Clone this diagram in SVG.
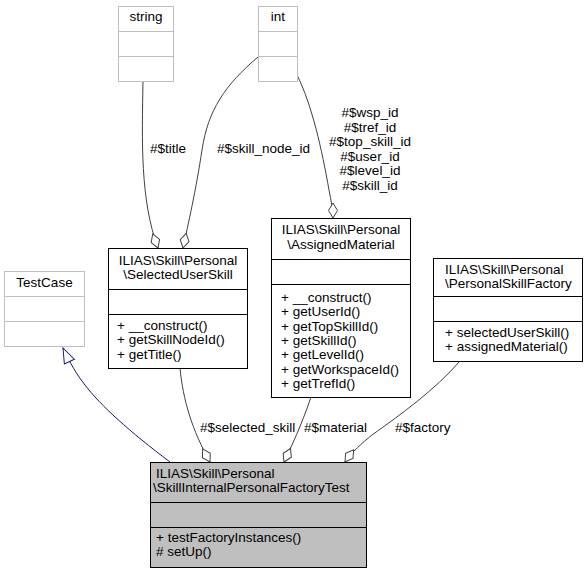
<svg xmlns="http://www.w3.org/2000/svg" width="586" height="573" viewBox="0 0 586 573">
<style>
text{font-family:"Liberation Sans",Arial,sans-serif;font-size:13.5px;fill:#000}
.m{text-anchor:middle}
.ext rect,.ext line{fill:#fff;stroke:#bfbfbf;stroke-width:1}
.cls rect,.cls line{fill:#fff;stroke:#000;stroke-width:1}
.cls rect.main{fill:#bfbfbf}
.e{fill:none;stroke:#404040;stroke-width:1}
.inh{fill:none;stroke:#191970;stroke-width:1}
</style>
<defs>
<marker id="dia" markerUnits="userSpaceOnUse" markerWidth="17" markerHeight="11" viewBox="-1 -5.5 17 11" refX="15" refY="0" orient="auto">
<path d="M0,0 L7.5,-4.5 L15,0 L7.5,4.5 Z" fill="#fff" stroke="#404040" stroke-width="1"/>
</marker>
<marker id="tri" markerUnits="userSpaceOnUse" markerWidth="17" markerHeight="13" viewBox="-1 -6.5 17 13" refX="15" refY="0" orient="auto">
<path d="M0,-5.5 L15,0 L0,5.5 Z" fill="#fff" stroke="#191970" stroke-width="1"/>
</marker>
</defs>

<g id="connectors">
<path class="e" d="M143,81 C142,140 140,200 158,248" marker-end="url(#dia)"/>
<text x="150" y="153">#$title</text>
<path class="e" d="M258,57 C225,85 208,110 202,150 S188,225 183,248" marker-end="url(#dia)"/>
<text x="217" y="153">#$skill_node_id</text>
<path class="e" d="M297,75 C312,105 322,150 329,190 C331,200 333,210 333,218" marker-end="url(#dia)"/>
<text class="m" x="370" y="117">#$wsp_id</text>
<text class="m" x="370" y="131.5">#$tref_id</text>
<text class="m" x="370" y="146">#$top_skill_id</text>
<text class="m" x="370" y="160.5">#$user_id</text>
<text class="m" x="370" y="175">#$level_id</text>
<text class="m" x="370" y="189.5">#$skill_id</text>
<path class="e" d="M180,368 C183,400 192,430 210,462" marker-end="url(#dia)"/>
<text x="200" y="432">#$selected_skill</text>
<path class="e" d="M311,397 C305,415 297,435 284,462" marker-end="url(#dia)"/>
<text x="304" y="432">#$material</text>
<path class="e" d="M460,361 C435,390 400,415 372,435 C362,443 352,452 345,462" marker-end="url(#dia)"/>
<text x="395" y="432">#$factory</text>
<path class="inh" d="M170,462 C130,432 100,405 85,385 C77,375 70,363 63,348" marker-end="url(#tri)"/>
</g>

<g id="node-string" class="ext">
<rect x="118.5" y="6.5" width="55" height="75"/>
<line x1="118.5" y1="31.5" x2="173.5" y2="31.5"/>
<line x1="118.5" y1="56.5" x2="173.5" y2="56.5"/>
<text class="m" x="146" y="21">string</text>
</g>

<g id="node-int" class="ext">
<rect x="258.5" y="6.5" width="39" height="75"/>
<line x1="258.5" y1="31.5" x2="297.5" y2="31.5"/>
<line x1="258.5" y1="56.5" x2="297.5" y2="56.5"/>
<text class="m" x="278" y="21">int</text>
</g>

<g id="node-testcase" class="ext">
<rect x="4.5" y="271.5" width="80" height="75"/>
<line x1="4.5" y1="296.5" x2="84.5" y2="296.5"/>
<line x1="4.5" y1="321.5" x2="84.5" y2="321.5"/>
<text class="m" x="44.5" y="287">TestCase</text>
</g>

<g id="node-selecteduserskill" class="cls">
<rect x="108.5" y="248.5" width="139" height="120"/>
<line x1="108.5" y1="289.5" x2="247.5" y2="289.5"/>
<line x1="108.5" y1="314.5" x2="247.5" y2="314.5"/>
<text class="m" x="178" y="264.5">ILIAS\Skill\Personal</text>
<text class="m" x="178" y="278.5">\SelectedUserSkill</text>
<text x="117" y="330">+ __construct()</text>
<text x="117" y="344.3">+ getSkillNodeId()</text>
<text x="117" y="358.6">+ getTitle()</text>
</g>

<g id="node-assignedmaterial" class="cls">
<rect x="271.5" y="218.5" width="139" height="179"/>
<line x1="271.5" y1="259.5" x2="410.5" y2="259.5"/>
<line x1="271.5" y1="284.5" x2="410.5" y2="284.5"/>
<text class="m" x="341" y="234">ILIAS\Skill\Personal</text>
<text class="m" x="341" y="248.5">\AssignedMaterial</text>
<text x="281" y="302">+ __construct()</text>
<text x="281" y="316.3">+ getUserId()</text>
<text x="281" y="330.6">+ getTopSkillId()</text>
<text x="281" y="345">+ getSkillId()</text>
<text x="281" y="359.3">+ getLevelId()</text>
<text x="281" y="373.6">+ getWorkspaceId()</text>
<text x="281" y="388">+ getTrefId()</text>
</g>

<g id="node-personalskillfactory" class="cls">
<rect x="433.5" y="258.5" width="149" height="103"/>
<line x1="433.5" y1="296.5" x2="582.5" y2="296.5"/>
<line x1="433.5" y1="321.5" x2="582.5" y2="321.5"/>
<text x="445" y="273.5">ILIAS\Skill\Personal</text>
<text x="445" y="287.5">\PersonalSkillFactory</text>
<text x="445" y="337">+ selectedUserSkill()</text>
<text x="445" y="351.3">+ assignedMaterial()</text>
</g>

<g id="node-main" class="cls">
<rect class="main" x="150.5" y="462.5" width="216" height="105"/>
<line x1="150.5" y1="502.5" x2="366.5" y2="502.5"/>
<line x1="150.5" y1="527.5" x2="366.5" y2="527.5"/>
<text x="156" y="477.5">ILIAS\Skill\Personal</text>
<text x="153" y="492">\SkillInternalPersonalFactoryTest</text>
<text x="156" y="542">+ testFactoryInstances()</text>
<text x="156" y="556.3"># setUp()</text>
</g>
</svg>
